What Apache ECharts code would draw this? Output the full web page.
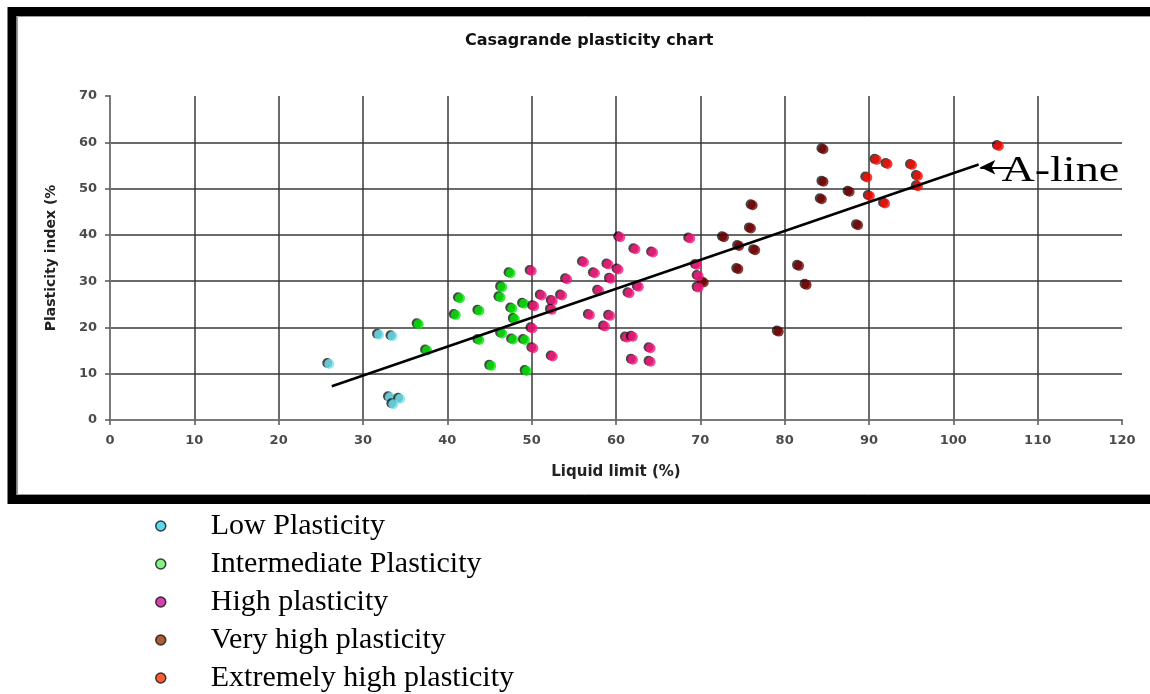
<!DOCTYPE html>
<html>
<head>
<meta charset="utf-8">
<script src="https://cdn.jsdelivr.net/npm/echarts@6/dist/echarts.min.js"></script>
<style>
  html, body { margin: 0; padding: 0; background: #ffffff; }
  #chart { width: 1150px; height: 694px; }
</style>
</head>
<body>
<div id="chart"></div>
<script>
// Axis ticks (liquid limit on x, plasticity index on y)
const xTickValues = [0, 10, 20, 30, 40, 50, 60, 70, 80, 90, 100, 110, 120];
const yTickValues = [0, 10, 20, 30, 40, 50, 60, 70];

// Soil samples: [liquid limit %, plasticity index %]
const lowPlasticity = [
  [26.0, 12.1], [31.9, 18.4], [33.5, 18.1], [33.2, 4.9], [34.4, 4.6], [33.6, 3.4]
];
const intermediatePlasticity = [
  [36.6, 20.7], [37.6, 15.0], [41.5, 26.3], [41.0, 22.7], [43.8, 23.6], [43.8, 17.3],
  [45.2, 11.7], [47.5, 31.7], [46.5, 28.7], [46.3, 26.5], [47.7, 24.1], [49.1, 25.1],
  [48.0, 21.8], [46.5, 18.7], [47.8, 17.4], [49.2, 17.3], [49.4, 10.6]
];
const highPlasticity = [
  [50.0, 32.2], [54.2, 30.4], [51.2, 26.9], [52.5, 25.7], [53.6, 26.9], [50.3, 24.6],
  [52.4, 23.8], [50.1, 19.8], [50.2, 15.5], [52.5, 13.7], [60.5, 39.5], [62.3, 36.9],
  [64.4, 36.2], [56.2, 34.1], [59.1, 33.6], [60.3, 32.5], [57.5, 31.7], [59.4, 30.5],
  [58.0, 27.9], [61.6, 27.4], [62.7, 28.8], [56.9, 22.7], [59.3, 22.5], [58.7, 20.2],
  [61.3, 17.8], [62.0, 18.0], [64.1, 15.5], [62.0, 13.0], [64.1, 12.6], [68.8, 39.2],
  [69.6, 33.5], [69.8, 31.1], [69.8, 28.6]
];
const veryHighPlasticity = [
  [72.8, 39.5], [76.0, 41.4], [74.6, 37.6], [76.5, 36.7], [74.5, 32.6], [76.2, 46.4],
  [81.7, 33.3], [82.6, 29.2], [79.3, 19.1], [84.6, 58.5], [84.6, 51.5], [84.4, 47.7],
  [87.7, 49.3], [88.7, 42.1], [70.4, 29.7]
];
const extremelyHighPlasticity = [
  [90.9, 56.2], [92.2, 55.3], [89.8, 52.4], [90.1, 48.4], [91.9, 46.8], [95.1, 55.1],
  [95.8, 52.7], [95.8, 50.5], [105.4, 59.2]
];

// A-line drawn across the data, with its pointer arrow and note
const aLine = [[26.3, 7.3], [103.0, 55.2]];
const aLineArrow = [[106.9, 54.6], [103.2, 54.6]];
const aLineNoteAt = [105.7, 53.6];

const groups = [
  { name: 'Low Plasticity', data: lowPlasticity, color: '#70e6f4', key: '#33d0ea' },
  { name: 'Intermediate Plasticity', data: intermediatePlasticity, color: '#00ea00', key: '#66ee66' },
  { name: 'High plasticity', data: highPlasticity, color: '#ff1680', key: '#cc1199' },
  { name: 'Very high plasticity', data: veryHighPlasticity, color: '#780000', key: '#993300' },
  { name: 'Extremely high plasticity', data: extremelyHighPlasticity, color: '#ff0a00', key: '#ff3300' }
];

const sansFont = 'DejaVu Sans';

const chart = echarts.init(document.getElementById('chart'), null, { renderer: 'canvas' });

const axisCommon = {
  type: 'value',
  axisLine: { show: true, lineStyle: { color: '#7a7a7a', width: 2 } },
  axisTick: { show: true, length: 5, lineStyle: { color: '#555', width: 1.5 } },
  axisLabel: { color: '#4a4a4a', fontFamily: sansFont, fontSize: 13, fontWeight: 'bold' },
  splitLine: { show: true, showMinLine: false, showMaxLine: false, lineStyle: { color: '#383838', width: 1.5 } },
  nameLocation: 'middle',
  nameTextStyle: { fontFamily: sansFont, fontWeight: 'bold', color: '#222' }
};

const scatterSeries = groups.map((g, i) => ({
  name: g.name,
  type: 'scatter',
  data: g.data,
  symbol: 'circle',
  symbolSize: 10,
  z: i === 2 ? 3 : 2,
  itemStyle: {
    color: g.color,
    shadowColor: 'rgba(0,0,0,0.9)',
    shadowBlur: 0,
    shadowOffsetX: -2,
    shadowOffsetY: -1
  },
  emphasis: { disabled: true },
  silent: true
}));

chart.setOption({
  animation: false,
  backgroundColor: '#ffffff',
  title: {
    text: 'Casagrande plasticity chart',
    left: 465,
    top: 33,
    padding: 0,
    textStyle: { fontFamily: sansFont, fontSize: 16, fontWeight: 'bold', color: '#111' }
  },
  grid: { left: 110, right: 28, top: 96, bottom: 274, containLabel: false, outerBoundsMode: 'none' },
  xAxis: Object.assign({}, axisCommon, {
    min: xTickValues[0],
    max: xTickValues[xTickValues.length - 1],
    interval: xTickValues[1] - xTickValues[0],
    axisLabel: Object.assign({}, axisCommon.axisLabel, { margin: 14 }),
    name: 'Liquid limit (%)',
    nameGap: 45,
    nameTextStyle: Object.assign({}, axisCommon.nameTextStyle, { fontSize: 15 })
  }),
  yAxis: Object.assign({}, axisCommon, {
    min: yTickValues[0],
    max: yTickValues[yTickValues.length - 1],
    interval: yTickValues[1] - yTickValues[0],
    axisLabel: Object.assign({}, axisCommon.axisLabel, { margin: 13 }),
    name: 'Plasticity index (%',
    nameGap: 52,
    nameTextStyle: Object.assign({}, axisCommon.nameTextStyle, { fontSize: 14 })
  }),
  legend: {
    orient: 'vertical',
    left: 155,
    top: 511,
    padding: 0,
    itemWidth: 90,
    itemHeight: 10,
    itemGap: 8,
    selectedMode: false,
    data: groups.map(g => ({
      name: g.name,
      icon: 'circle',
      itemStyle: {
        color: g.key, borderColor: '#111', borderWidth: 1.5,
        shadowBlur: 0, shadowOffsetX: 0, shadowOffsetY: 0, shadowColor: 'transparent'
      }
    })),
    textStyle: { fontFamily: 'Liberation Serif', fontSize: 30, lineHeight: 30, color: '#000' }
  },
  series: scatterSeries.concat([{
    name: 'A-line',
    type: 'line',
    data: aLine,
    symbol: 'none',
    silent: true,
    z: 5,
    lineStyle: { color: '#000', width: 2.5 },
    markLine: {
      silent: true,
      symbol: ['none', 'arrow'],
      symbolSize: [11, 15],
      label: { show: false },
      lineStyle: { color: '#000', width: 2, type: 'solid' },
      data: [[{ coord: aLineArrow[0] }, { coord: aLineArrow[1] }]]
    }
  }])
});

// Frame around the chart area and the A-line note placed in data coordinates
const notePx = chart.convertToPixel({ gridIndex: 0 }, aLineNoteAt);
chart.setOption({
  graphic: [
    {
      type: 'rect', silent: true, z: 10,
      shape: { x: 12, y: 11.5, width: 1200, height: 488 },
      style: { fill: 'none', stroke: '#000', lineWidth: 9 }
    },
    {
      type: 'rect', silent: true, z: 10,
      shape: { x: 17.5, y: 16.5, width: 1200, height: 478 },
      style: { fill: 'none', stroke: '#9a9a9a', lineWidth: 1 }
    },
    {
      type: 'text', silent: true, z: 10,
      x: notePx[0], y: notePx[1], scaleX: 1.28,
      style: {
        text: 'A-line', fontFamily: 'Liberation Serif', fontSize: 36,
        fill: '#000', align: 'left', verticalAlign: 'middle'
      }
    }
  ]
});
</script>
</body>
</html>
